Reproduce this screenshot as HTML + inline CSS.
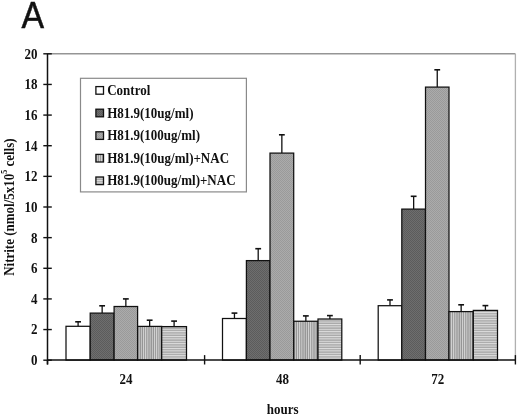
<!DOCTYPE html>
<html><head><meta charset="utf-8"><style>
html,body{margin:0;padding:0;background:#fff;}
body{width:520px;height:415px;overflow:hidden;}
svg{display:block;filter:grayscale(1);}
.t{font-family:"Liberation Serif",serif;font-weight:bold;font-size:14px;fill:#111;}
.A{font-family:"Liberation Sans",sans-serif;font-size:37.6px;fill:#111;stroke:#111;stroke-width:0.5px;}
</style></head><body>
<svg width="520" height="415" viewBox="0 0 520 415">
<defs>
<pattern id="p2" width="2" height="2" patternUnits="userSpaceOnUse"><rect width="2" height="2" fill="#6e6e6e"/><rect width="1" height="1" fill="#5c5c5c"/><rect x="1" y="1" width="1" height="1" fill="#5c5c5c"/></pattern>
<pattern id="p3" width="2" height="2" patternUnits="userSpaceOnUse"><rect width="2" height="2" fill="#ababab"/><rect width="1" height="1" fill="#9a9a9a"/><rect x="1" y="1" width="1" height="1" fill="#9a9a9a"/></pattern>
<pattern id="p4" width="2.2" height="4" patternUnits="userSpaceOnUse"><rect width="2.2" height="4" fill="#909090"/><rect x="0" width="1" height="4" fill="#d8d8d8"/></pattern>
<pattern id="p5" width="4" height="2.4" patternUnits="userSpaceOnUse"><rect width="4" height="2.4" fill="#a8a8a8"/><rect y="0" width="4" height="1" fill="#e0e0e0"/></pattern>
</defs>
<line x1="47.5" y1="53.7" x2="515.4" y2="53.7" stroke="#959595" stroke-width="1.4"/>
<line x1="515.4" y1="53.7" x2="515.4" y2="360.1" stroke="#b0b0b0" stroke-width="1.3"/>
<line x1="78.10" y1="321.8" x2="78.10" y2="326.3" stroke="#111" stroke-width="1.3"/>
<line x1="75.20" y1="321.8" x2="81.00" y2="321.8" stroke="#111" stroke-width="1.6"/>
<rect x="66" y="326.3" width="24.20" height="33.80" fill="#ffffff" stroke="#111" stroke-width="1.25"/>
<line x1="102.15" y1="305.8" x2="102.15" y2="313.1" stroke="#111" stroke-width="1.3"/>
<line x1="99.25" y1="305.8" x2="105.05" y2="305.8" stroke="#111" stroke-width="1.6"/>
<rect x="90.2" y="313.1" width="23.90" height="47.00" fill="url(#p2)" stroke="#111" stroke-width="1.25"/>
<line x1="125.85" y1="298.9" x2="125.85" y2="306.5" stroke="#111" stroke-width="1.3"/>
<line x1="122.95" y1="298.9" x2="128.75" y2="298.9" stroke="#111" stroke-width="1.6"/>
<rect x="114.1" y="306.5" width="23.50" height="53.60" fill="url(#p3)" stroke="#111" stroke-width="1.25"/>
<line x1="149.65" y1="320.2" x2="149.65" y2="326.4" stroke="#111" stroke-width="1.3"/>
<line x1="146.75" y1="320.2" x2="152.55" y2="320.2" stroke="#111" stroke-width="1.6"/>
<rect x="137.6" y="326.4" width="24.10" height="33.70" fill="url(#p4)" stroke="#111" stroke-width="1.25"/>
<line x1="174.10" y1="321.1" x2="174.10" y2="326.6" stroke="#111" stroke-width="1.3"/>
<line x1="171.20" y1="321.1" x2="177.00" y2="321.1" stroke="#111" stroke-width="1.6"/>
<rect x="161.7" y="326.6" width="24.80" height="33.50" fill="url(#p5)" stroke="#111" stroke-width="1.25"/>
<line x1="234.45" y1="313.1" x2="234.45" y2="318.5" stroke="#111" stroke-width="1.3"/>
<line x1="231.55" y1="313.1" x2="237.35" y2="313.1" stroke="#111" stroke-width="1.6"/>
<rect x="222.5" y="318.5" width="23.90" height="41.60" fill="#ffffff" stroke="#111" stroke-width="1.25"/>
<line x1="258.20" y1="248.7" x2="258.20" y2="260.6" stroke="#111" stroke-width="1.3"/>
<line x1="255.30" y1="248.7" x2="261.10" y2="248.7" stroke="#111" stroke-width="1.6"/>
<rect x="246.4" y="260.6" width="23.60" height="99.50" fill="url(#p2)" stroke="#111" stroke-width="1.25"/>
<line x1="281.85" y1="134.8" x2="281.85" y2="153.1" stroke="#111" stroke-width="1.3"/>
<line x1="278.95" y1="134.8" x2="284.75" y2="134.8" stroke="#111" stroke-width="1.6"/>
<rect x="270.0" y="153.1" width="23.70" height="207.00" fill="url(#p3)" stroke="#111" stroke-width="1.25"/>
<line x1="305.85" y1="315.9" x2="305.85" y2="321.25" stroke="#111" stroke-width="1.3"/>
<line x1="302.95" y1="315.9" x2="308.75" y2="315.9" stroke="#111" stroke-width="1.6"/>
<rect x="293.7" y="321.25" width="24.30" height="38.85" fill="url(#p4)" stroke="#111" stroke-width="1.25"/>
<line x1="329.90" y1="315.6" x2="329.90" y2="319" stroke="#111" stroke-width="1.3"/>
<line x1="327.00" y1="315.6" x2="332.80" y2="315.6" stroke="#111" stroke-width="1.6"/>
<rect x="318" y="319" width="23.80" height="41.10" fill="url(#p5)" stroke="#111" stroke-width="1.25"/>
<line x1="390.00" y1="299.9" x2="390.00" y2="305.7" stroke="#111" stroke-width="1.3"/>
<line x1="387.10" y1="299.9" x2="392.90" y2="299.9" stroke="#111" stroke-width="1.6"/>
<rect x="378.2" y="305.7" width="23.60" height="54.40" fill="#ffffff" stroke="#111" stroke-width="1.25"/>
<line x1="413.65" y1="196.3" x2="413.65" y2="209.1" stroke="#111" stroke-width="1.3"/>
<line x1="410.75" y1="196.3" x2="416.55" y2="196.3" stroke="#111" stroke-width="1.6"/>
<rect x="401.8" y="209.1" width="23.70" height="151.00" fill="url(#p2)" stroke="#111" stroke-width="1.25"/>
<line x1="437.25" y1="69.8" x2="437.25" y2="87.1" stroke="#111" stroke-width="1.3"/>
<line x1="434.35" y1="69.8" x2="440.15" y2="69.8" stroke="#111" stroke-width="1.6"/>
<rect x="425.5" y="87.1" width="23.50" height="273.00" fill="url(#p3)" stroke="#111" stroke-width="1.25"/>
<line x1="461.15" y1="304.8" x2="461.15" y2="311.6" stroke="#111" stroke-width="1.3"/>
<line x1="458.25" y1="304.8" x2="464.05" y2="304.8" stroke="#111" stroke-width="1.6"/>
<rect x="449.0" y="311.6" width="24.30" height="48.50" fill="url(#p4)" stroke="#111" stroke-width="1.25"/>
<line x1="485.40" y1="305.6" x2="485.40" y2="310.4" stroke="#111" stroke-width="1.3"/>
<line x1="482.50" y1="305.6" x2="488.30" y2="305.6" stroke="#111" stroke-width="1.6"/>
<rect x="473.3" y="310.4" width="24.20" height="49.70" fill="url(#p5)" stroke="#111" stroke-width="1.25"/>
<line x1="47.5" y1="53.7" x2="47.5" y2="364.5" stroke="#111" stroke-width="1.5"/>
<line x1="47.5" y1="360.1" x2="515.4" y2="360.1" stroke="#111" stroke-width="1.5"/>
<line x1="43.3" y1="360.20" x2="51.8" y2="360.20" stroke="#111" stroke-width="1.4"/>
<text transform="translate(37.60,365.10) scale(0.929,1)" text-anchor="end" class="t">0</text>
<line x1="43.3" y1="329.56" x2="51.8" y2="329.56" stroke="#111" stroke-width="1.4"/>
<text transform="translate(37.60,334.46) scale(0.929,1)" text-anchor="end" class="t">2</text>
<line x1="43.3" y1="298.92" x2="51.8" y2="298.92" stroke="#111" stroke-width="1.4"/>
<text transform="translate(37.60,303.82) scale(0.929,1)" text-anchor="end" class="t">4</text>
<line x1="43.3" y1="268.28" x2="51.8" y2="268.28" stroke="#111" stroke-width="1.4"/>
<text transform="translate(37.60,273.18) scale(0.929,1)" text-anchor="end" class="t">6</text>
<line x1="43.3" y1="237.64" x2="51.8" y2="237.64" stroke="#111" stroke-width="1.4"/>
<text transform="translate(37.60,242.54) scale(0.929,1)" text-anchor="end" class="t">8</text>
<line x1="43.3" y1="207.00" x2="51.8" y2="207.00" stroke="#111" stroke-width="1.4"/>
<text transform="translate(37.60,211.90) scale(0.929,1)" text-anchor="end" class="t">10</text>
<line x1="43.3" y1="176.36" x2="51.8" y2="176.36" stroke="#111" stroke-width="1.4"/>
<text transform="translate(37.60,181.26) scale(0.929,1)" text-anchor="end" class="t">12</text>
<line x1="43.3" y1="145.72" x2="51.8" y2="145.72" stroke="#111" stroke-width="1.4"/>
<text transform="translate(37.60,150.62) scale(0.929,1)" text-anchor="end" class="t">14</text>
<line x1="43.3" y1="115.08" x2="51.8" y2="115.08" stroke="#111" stroke-width="1.4"/>
<text transform="translate(37.60,119.98) scale(0.929,1)" text-anchor="end" class="t">16</text>
<line x1="43.3" y1="84.44" x2="51.8" y2="84.44" stroke="#111" stroke-width="1.4"/>
<text transform="translate(37.60,89.34) scale(0.929,1)" text-anchor="end" class="t">18</text>
<line x1="43.3" y1="53.80" x2="51.8" y2="53.80" stroke="#111" stroke-width="1.4"/>
<text transform="translate(37.60,58.70) scale(0.929,1)" text-anchor="end" class="t">20</text>
<line x1="47.50" y1="360.1" x2="47.50" y2="364.5" stroke="#111" stroke-width="1.4"/>
<line x1="204.60" y1="355.1" x2="204.60" y2="364.5" stroke="#111" stroke-width="1.4"/>
<line x1="360.20" y1="355.1" x2="360.20" y2="364.5" stroke="#111" stroke-width="1.4"/>
<line x1="515.40" y1="355.1" x2="515.40" y2="364.5" stroke="#111" stroke-width="1.4"/>
<text transform="translate(126.00,383.80) scale(0.929,1)" text-anchor="middle" class="t">24</text>
<text transform="translate(282.40,383.80) scale(0.929,1)" text-anchor="middle" class="t">48</text>
<text transform="translate(437.80,383.80) scale(0.929,1)" text-anchor="middle" class="t">72</text>
<text transform="translate(282.60,414.30) scale(0.929,1)" text-anchor="middle" class="t">hours</text>
<text transform="translate(14.20,207.10) rotate(-90) scale(0.929,1)" text-anchor="middle" class="t">Nitrite (nmol/5x10<tspan dy="-7.2" font-size="8.5">5</tspan><tspan dy="7.2"> cells)</tspan></text>
<rect x="80.5" y="78.3" width="165.9" height="113.6" fill="#fff" stroke="#8a8a8a" stroke-width="1.2"/>
<rect x="95.9" y="86.60" width="7.6" height="7.6" fill="#ffffff" stroke="#111" stroke-width="1.3"/>
<text transform="translate(107.20,95.00) scale(0.929,1)" text-anchor="start" class="t">Control</text>
<rect x="95.9" y="109.20" width="7.6" height="7.6" fill="url(#p2)" stroke="#111" stroke-width="1.3"/>
<text transform="translate(107.20,117.60) scale(0.929,1)" text-anchor="start" class="t">H81.9(10ug/ml)</text>
<rect x="95.9" y="131.80" width="7.6" height="7.6" fill="url(#p3)" stroke="#111" stroke-width="1.3"/>
<text transform="translate(107.20,140.20) scale(0.929,1)" text-anchor="start" class="t">H81.9(100ug/ml)</text>
<rect x="95.9" y="154.40" width="7.6" height="7.6" fill="url(#p4)" stroke="#111" stroke-width="1.3"/>
<text transform="translate(107.20,162.80) scale(0.929,1)" text-anchor="start" class="t">H81.9(10ug/ml)+NAC</text>
<rect x="95.9" y="177.00" width="7.6" height="7.6" fill="url(#p5)" stroke="#111" stroke-width="1.3"/>
<text transform="translate(107.20,185.40) scale(0.929,1)" text-anchor="start" class="t">H81.9(100ug/ml)+NAC</text>
<text transform="translate(21.6,27.8) scale(0.9,1)" class="A">A</text>
</svg>
</body></html>
